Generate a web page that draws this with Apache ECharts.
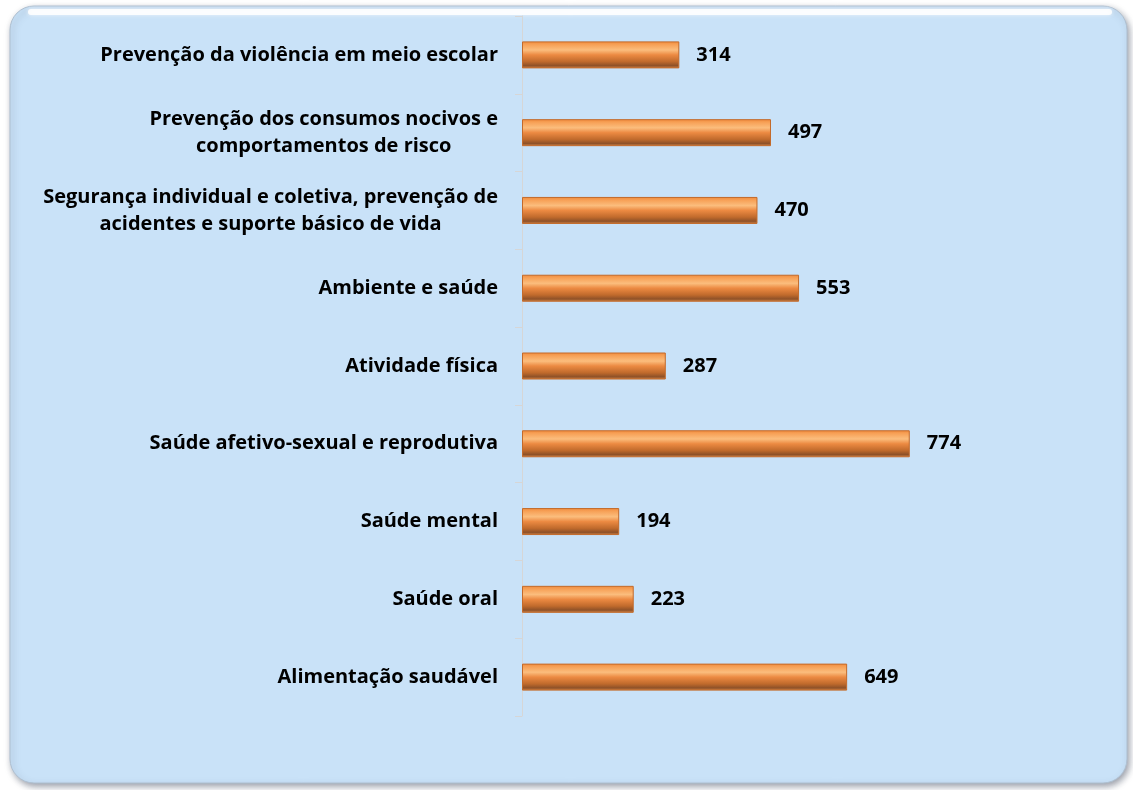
<!DOCTYPE html>
<html><head><meta charset="utf-8">
<script src="https://cdn.jsdelivr.net/npm/echarts@6/dist/echarts.min.js"></script>
<style>html,body{margin:0;padding:0;background:#fff}#c{width:1133px;height:790px}</style>
</head><body><div id="c"></div>
<script>
const categories = [
  'Prevenção da violência em meio escolar',
  'Prevenção dos consumos nocivos e\ncomportamentos de risco',
  'Segurança individual e coletiva, prevenção de\nacidentes e suporte básico de vida',
  'Ambiente e saúde',
  'Atividade física',
  'Saúde afetivo-sexual e reprodutiva',
  'Saúde mental',
  'Saúde oral',
  'Alimentação saudável'
];
const values = [314, 497, 470, 553, 287, 774, 194, 223, 649];

const chart = echarts.init(document.getElementById('c'), null, {renderer: 'canvas'});
const FONT = '"Open Sans", "Noto Sans", sans-serif';
chart.setOption({
  animation: false,
  graphic: [{
    type: 'rect', z: -10, silent: true,
    shape: {x: 10, y: 6, width: 1117, height: 777, r: 24},
    style: {
      fill: '#c9e2f8', stroke: '#aebfd0', lineWidth: 1,
      shadowBlur: 6, shadowOffsetX: 2, shadowOffsetY: 3, shadowColor: 'rgba(60,70,90,0.5)'
    }
  }, {
    type: 'rect', z: -9, silent: true,
    shape: {x: 28, y: 9, width: 1084, height: 6, r: 3},
    style: {fill: 'rgba(255,255,255,0.85)', shadowBlur: 4, shadowColor: 'rgba(255,255,255,0.9)'}
  }],
  grid: {left: 522, top: 16, width: 501, height: 700, containLabel: false},
  xAxis: {
    type: 'value', min: 0, max: 1000, show: false
  },
  yAxis: {
    type: 'category', data: categories, inverse: true,
    axisLine: {show: true, lineStyle: {color: '#d6d6d6', width: 1}},
    axisTick: {show: true, length: 7, lineStyle: {color: '#d6d6d6'}},
    axisLabel: {
      margin: 24, color: '#000', fontWeight: 'bold', fontSize: 20,
      fontFamily: FONT, align: 'right', lineHeight: 27,
      formatter: function (v) {
        return v.split('\n').map(function (s) { return '{c|' + s + '}'; }).join('\n');
      },
      rich: {
        c: {align: 'center', color: '#000', fontWeight: 'bold', fontSize: 20, fontFamily: FONT, lineHeight: 27}
      }
    }
  },
  series: [{
    type: 'bar', data: values, barWidth: 27,
    itemStyle: {
      color: new echarts.graphic.LinearGradient(0, 0, 0, 1, [
        {offset: 0, color: '#f08a3c'},
        {offset: 0.12, color: '#f7a157'},
        {offset: 0.32, color: '#fbbd7d'},
        {offset: 0.5, color: '#ec8a42'},
        {offset: 0.75, color: '#c06a2c'},
        {offset: 0.9, color: '#8e5128'},
        {offset: 1, color: '#d7884a'}
      ]),
      borderColor: '#c36a2a', borderWidth: 1
    },
    label: {
      show: true, position: 'right', distance: 17,
      color: '#000', fontWeight: 'bold', fontSize: 20, fontFamily: FONT
    }
  }]
});
</script></body></html>
